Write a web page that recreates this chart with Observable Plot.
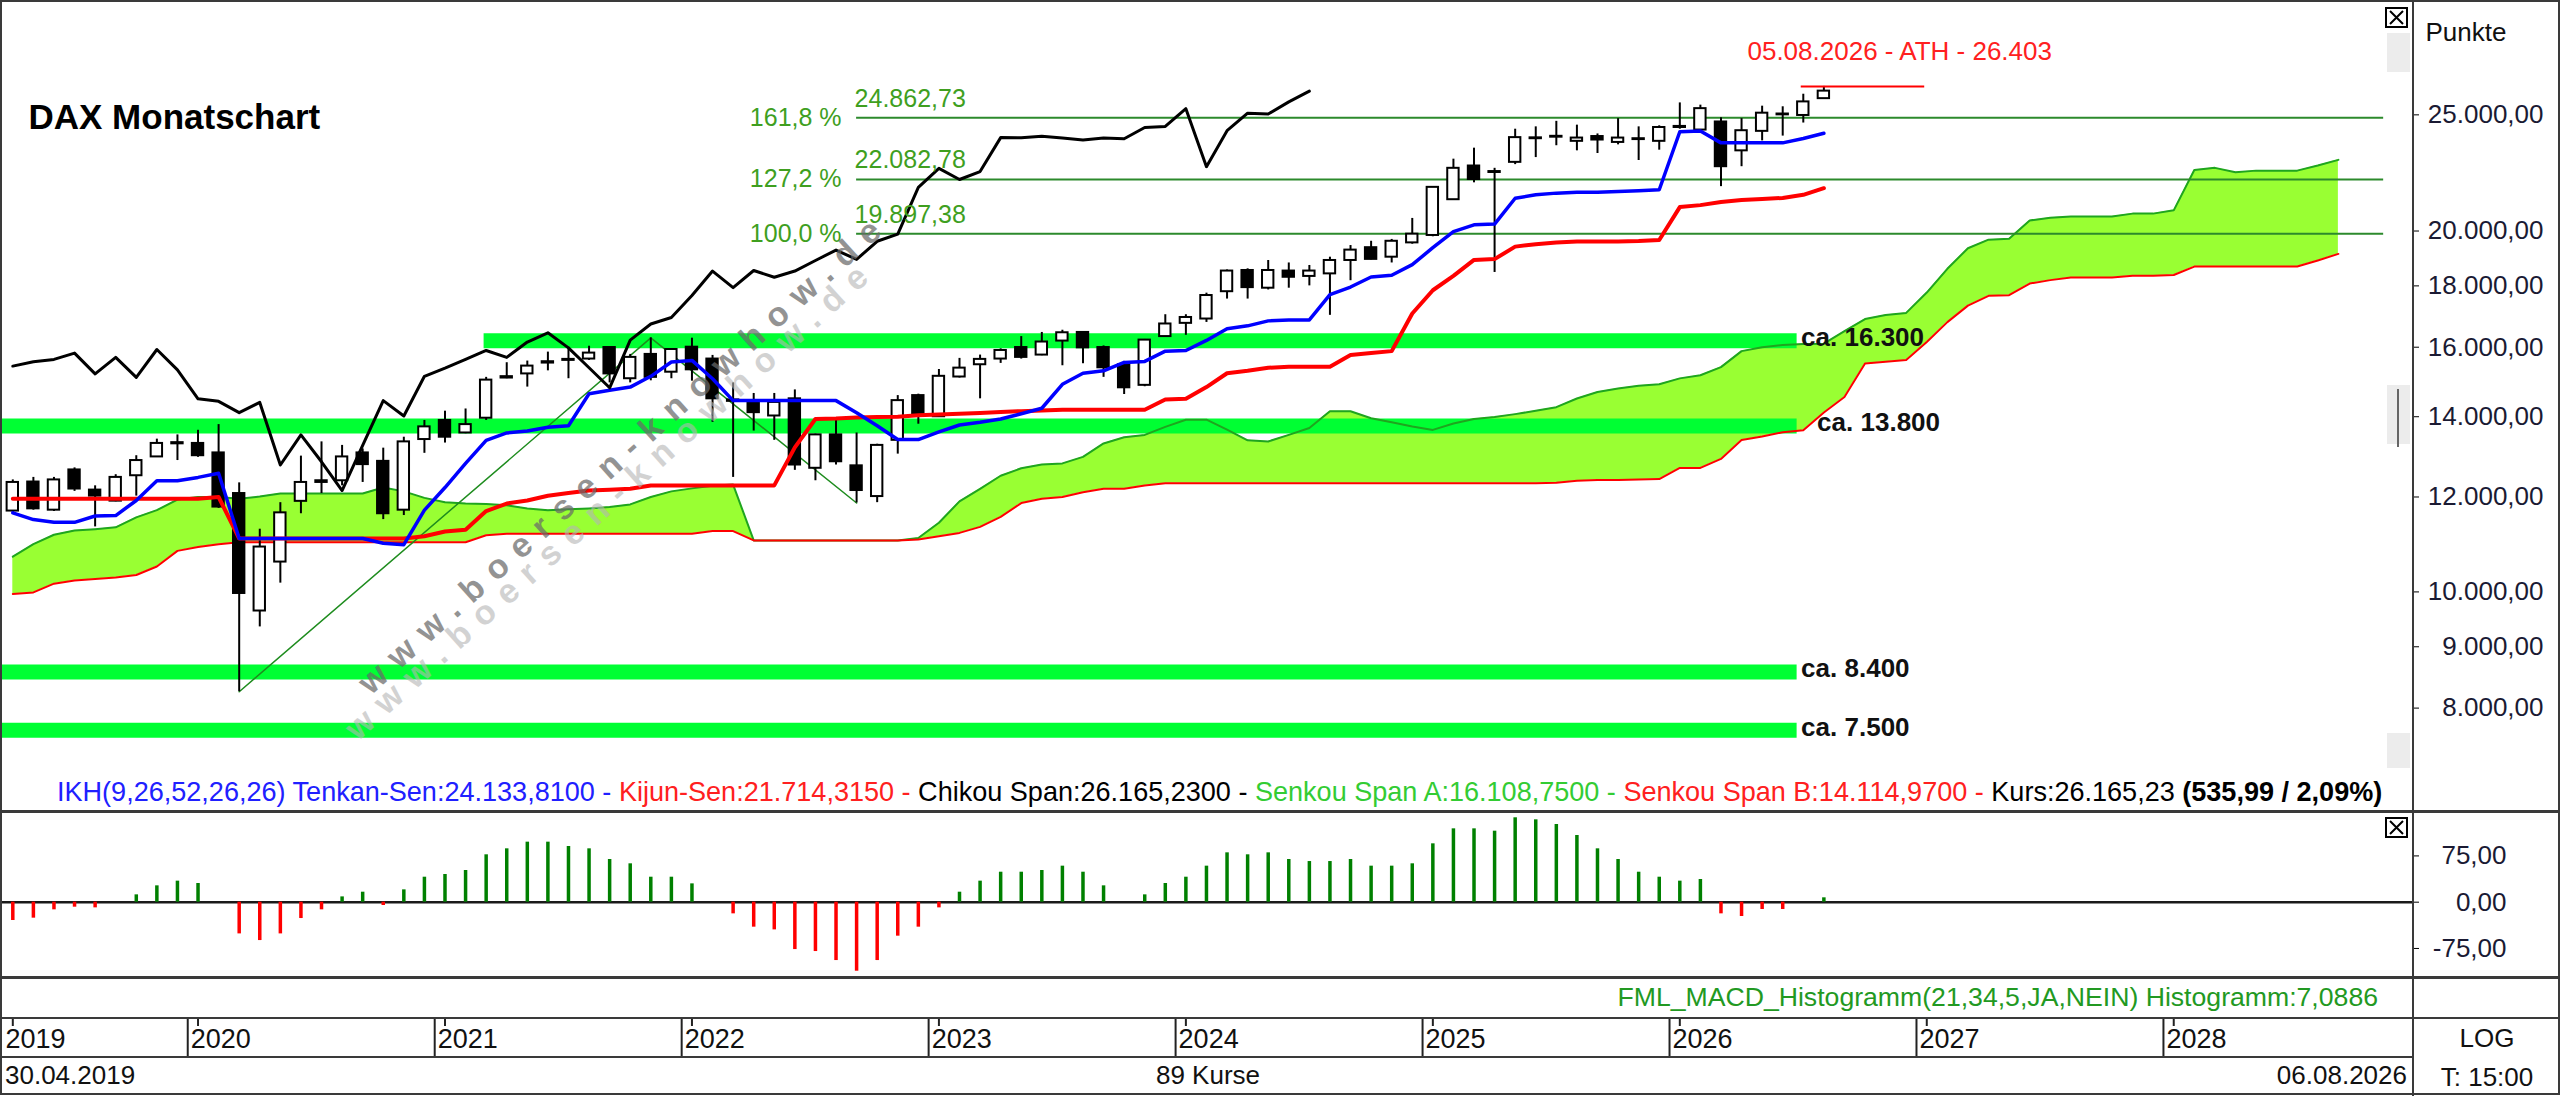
<!DOCTYPE html>
<html><head><meta charset="utf-8">
<script src="https://cdn.jsdelivr.net/npm/d3@7"></script>
<script src="https://cdn.jsdelivr.net/npm/@observablehq/plot@0.6"></script>
<style>
html,body{margin:0;padding:0;background:#fff;}
#wrap{position:relative;width:2560px;height:1096px;overflow:hidden;background:#fff;}
.pane{position:absolute;left:0;}
</style></head><body><div id="wrap"></div>
<script>
// ---------------- DATA ----------------
const title = "DAX Monatschart";
const firstDate = "30.04.2019";
const lastDate = "06.08.2026";
const open = [11680,12350,11700,12640,12160,11905,12500,12960,13290,13300,
13060,12080,9640,10590,11900,12340,12380,13060,12850,11700,
13400,13900,13570,13960,15080,15200,15520,15600,15640,15990,
15060,15780,15250,16000,15640,14460,14390,14020,14490,12680,
13520,12740,12010,13380,14580,14000,15110,15470,15640,15990,
15760,16190,16460,15990,15470,14870,16330,16750,16890,17800,
18540,17920,18520,18330,18420,18900,19370,19020,19550,19830,
21240,22660,22380,22820,23880,23950,23760,23980,23710,23840,
23760,24400,24280,24660,23330,24220,25000,24970,25790];
const high = [12400,12460,12460,12690,12260,12525,12990,13410,13520,13640,
13790,12330,11280,11870,12980,13340,13250,13160,13180,13460,
13900,14150,14210,15100,15530,15580,15850,16000,16030,16000,
15780,16290.19,15960,16280,15750,14940,14640,14640,14740,13540,
13940,13570,13280,14580,14620,15330,15660,15760,15950,16330,
16460,16530,16480,16040,15570,16240,17030,17030,17750,18560,
18600,18900,18810,18720,19020,19450,19610,19680,20490,21780,
22960,23450,22560,24320,24430,24690,24510,24100,24820,24430,
24480,25580,25470,24860,24820,25420,25390,26010,26403];
const low = [11650,11700,11670,12130,11330,11890,12020,12950,12870,12950,
11740,8255.65,9350,10170,11620,12080,12260,12340,11490,11580,
13050,13310,13550,13900,15060,14820,15290,15060,15600,14940,
14940,15000,15060,14990,13850,12460,13620,13380,12630,12380,
12760,11862.84,11870,13030,13800,13980,15080,14490,15510,15640,
15740,15440,15500,15100,14610,14830,16320,16370,16780,17550,
17550,17860,17920,18000,17010,18180,18920,18810,19500,19780,
21220,21940,18470,22720,23030,23560,23330,23210,23600,22900,
23360,24320,24250,21780,22630,23780,24000,24610,25750];
const close = [12340,11730,12400,12185,12020,12460,12870,13300,13320,12990,
11770,9970,10900,11640,12340,12380,12960,12770,11620,13340,
13730,13460,13790,15020,15120,15430,15560,15630,15820,15200,
15690,15100,15930,15320,14490,14420,14110,14390,12760,13520,
12840,12150,13250,14440,14020,15130,15370,15630,15900,15690,
16160,16450,15980,15380,14800,16220,16730,16940,17670,18520,
17940,18540,18300,18520,18900,19280,18940,19610,19880,21750,
22560,22080,22420,23930,23920,23990,23910,23820,23910,23880,
24400,24450,25300,22630,24250,25080,25040,25629.24,26165.23];
const tenkan = [11640,11490,11430,11430,11570,11580,11920,12380,12380,12460,
12560,11080,11080,11080,11080,11080,11080,11080,10980,10950,
11700,12220,12800,13380,13570,13620,13720,13760,14630,14730,
14820,15130,15550,15600,15060,14440,14440,14440,14440,14440,
14440,14110,13760,13400,13400,13600,13780,13850,13940,14080,
14230,14900,15220,15290,15540,15570,15880,15900,16210,16580,
16670,16830,16860,16860,17700,17960,18310,18370,18750,19370,
19980,20240,20270,21300,21440,21510,21550,21550,21580,21610,
21650,24200,24240,23690,23690,23690,23690,23890,24133.81];
const kijun = [11960,11960,11960,11960,11960,11960,11960,11960,11960,11960,
12000,11080,11080,11080,11080,11080,11080,11080,11080,11080,
11130,11230,11270,11680,11850,11920,12030,12090,12150,12170,
12190,12270,12270,12270,12270,12270,12270,12270,13200,13940,
13950,13980,13990,14000,14040,14060,14080,14100,14130,14150,
14170,14190,14190,14190,14190,14190,14470,14490,14820,15220,
15290,15380,15410,15410,15410,15760,15820,15880,17070,17850,
18350,18920,18950,19410,19500,19560,19600,19600,19600,19620,
19660,20940,21020,21150,21230,21270,21310,21440,21714.315];
const spanA = [10700,10960,11160,11250,11280,11320,11540,11700,11940,12000,
12000,11960,12010,12080,12080,12080,12080,12080,12220,12130,
11980,11880,11850,11840,11810,11740,11700,11720,11740,11770,
11830,12000,12130,12200,12260,12290,11040,11040,11040,11040,
11040,11040,11040,11040,11090,11420,11900,12190,12500,12680,
12770,12800,12960,13300,13460,13520,13730,13920,13920,13660,
13380,13350,13520,13700,14150,14150,13960,13850,13740,13650,
13820,13940,13990,14070,14160,14260,14500,14680,14780,14860,
14900,15070,15160,15400,15880,16000,16070,16100,16108.75,16500,
16890,17020,17090,17770,18600,19350,19670,19710,20410,20520,
20570,20570,20570,20680,20680,20810,22490,22580,22390,22460,
22460,22460,22680,22930];
const spanB = [9960,9990,10160,10220,10250,10280,10330,10500,10820,10900,
10960,11000,11000,11000,11000,11000,11000,11000,11000,11000,
11000,11000,11000,11150,11180,11180,11180,11180,11180,11180,
11180,11180,11180,11180,11240,11240,11040,11040,11040,11040,
11040,11040,11040,11040,11060,11130,11200,11330,11550,11860,
11960,12000,12110,12190,12190,12270,12320,12320,12320,12320,
12320,12320,12320,12320,12320,12320,12320,12320,12320,12320,
12320,12320,12320,12320,12320,12330,12380,12400,12400,12410,
12420,12690,12690,12910,13390,13480,13590,13640,14114.97,14540,
15510,15560,15610,16160,16790,17330,17660,17680,18080,18200,
18290,18290,18290,18350,18350,18380,18680,18680,18680,18680,
18680,18680,18900,19140];
const macdHist = [-29.7,-25.9,-12.4,-8.1,-9.2,0,11.9,26.5,34.1,30.3,
0,-51.4,-62.2,-51.4,-26.5,-12.4,8.6,16.2,-5.4,20,
40.5,44.9,51.4,76.8,86.5,97.3,97.3,90.3,86.5,69.2,
62.2,40.5,40.5,29.7,0,-18.9,-40.5,-44.9,-76.8,-80,
-94.6,-111.9,-94.6,-55.1,-40.5,-9.2,16.2,34.1,48.6,48.6,
51.4,58.4,48.6,26.5,0,11.9,30.3,40.5,58.4,80,
76.8,80,69.2,65.9,65.9,69.2,58.4,58.4,62.2,94.6,
118.9,118.9,115.1,136.8,133.5,125.9,108.1,86.5,69.2,48.6,
40.5,34.1,36.8,-18.9,-23.2,-11.9,-11.9,0,7.0886];
const chikouShift = 25;
const supportLevels = [16200, 13750, 8575, 7665];
const supportLabels = ["ca. 16.300", "ca. 13.800", "ca. 8.400", "ca. 7.500"];
const supportFromMonth = [22.9, -0.6, -0.6, -0.6];
const supportToMonth = 86.7;
const fibPct = ["100,0 %", "127,2 %", "161,8 %"];
const fibValues = [19897.38, 22082.78, 24862.73];
const fibToMonth = 115.2;
const zigzagMonth = [11, 31, 41];
const zigzagValue = [8255.65, 16290.19, 11862.84];
const athLabel = "05.08.2026 - ATH - 26.403";
const athValue = 26403;
const athFromMonth = 86.9, athToMonth = 92.9;
const priceTicks = [8000, 9000, 10000, 12000, 14000, 16000, 18000, 20000, 25000];
const macdTicks = [-75, 0, 75];
const years = [2019, 2020, 2021, 2022, 2023, 2024, 2025, 2026, 2027, 2028];
const macdName = "FML_MACD_Histogramm(21,34,5,JA,NEIN) Histogramm:";

// ---------------- HELPERS ----------------
const FONT = '"Liberation Sans", Arial, Helvetica, sans-serif';
const fmtDE = (v, dec = 2) => {
  const neg = v < 0; const s = Math.abs(v).toFixed(dec); const [a, b] = s.split(".");
  return (neg ? "-" : "") + a.replace(/\B(?=(\d{3})+(?!\d))/g, ".") + (b !== undefined ? "," + b : "");
};
const N = close.length;
const candles = d3.range(N).map(i => ({i, o: open[i], h: high[i], l: low[i], c: close[i], a: i - 0.5, b: i + 0.5}));
const cloud = d3.range(spanA.length).map(i => ({i, a: spanA[i], b: spanB[i]}));
const ichi = d3.range(N).map(i => ({i, t: tenkan[i], k: kijun[i]}));
const chikou = d3.range(N - chikouShift).map(i => ({i, v: close[i + chikouShift]}));
const supports = supportLevels.map((v, k) => ({v, label: supportLabels[k], from: supportFromMonth[k], to: supportToMonth}));
const fib = fibValues.map((v, k) => ({v, pct: fibPct[k], from: zigzagMonth[2], to: fibToMonth}));
const zig = zigzagMonth.map((m, k) => ({i: m, v: zigzagValue[k]}));
const ath = {v: athValue, from: athFromMonth, to: athToMonth, label: athLabel};
const macdData = macdHist.map((v, i) => ({i, v, zero: 0}));
const yearRows = years.map(y => {
  const jan = (y - 2019) * 12 - 3;
  return {label: String(y), boundary: Math.max(jan - 0.5, -0.5), first: Math.max(jan, 0), year: y};
});
const xDomain = [-0.598, 116.65];
const baseStyle = `font-family:${FONT};font-size:26px;background:transparent;max-width:none;overflow:visible;`;
const wrap = document.getElementById("wrap");
function place(el, top) { const d = document.createElement("div"); d.className = "pane"; d.style.top = top + "px"; d.appendChild(el); wrap.appendChild(d); return el; }
function fit(sel, w) { const n = sel.node(); const cur = parseFloat(sel.style("font-size")); const m = n.getComputedTextLength(); if (m > 0) sel.style("font-size", (cur * w / m) + "px"); }

// ---------------- PRICE PANEL ----------------
const price = Plot.plot({
  width: 2560, height: 811, marginLeft: 0, marginRight: 147, marginTop: 0, marginBottom: 0,
  x: {domain: xDomain, axis: null},
  y: {type: "log", domain: [6559, 31140], axis: null},
  color: {type: "identity"},
  style: baseStyle,
  marks: [
    Plot.areaY(cloud, {x: "i", y1: "b", y2: "a", fill: "#99ff33"}),
    Plot.ruleY(supports, {y: "v", x1: "from", x2: "to", stroke: "#00ff33", strokeWidth: 15}),
    Plot.line(cloud, {x: "i", y: "a", stroke: "#1fa51f", strokeWidth: 2}),
    Plot.line(cloud, {x: "i", y: "b", stroke: "#ff0000", strokeWidth: 2}),
    Plot.ruleY(fib, {y: "v", x1: "from", x2: "to", stroke: "#2c8a2c", strokeWidth: 2}),
    Plot.line(zig, {x: "i", y: "v", stroke: "#1e8c1e", strokeWidth: 1.5}),
    Plot.ruleX(candles, {x: "i", y1: "l", y2: "h", stroke: "#000", strokeWidth: 2}),
    Plot.rect(candles, {x1: "a", x2: "b", y1: "o", y2: "c", insetLeft: 4.6, insetRight: 4.6,
      fill: d => d.c >= d.o ? "#ffffff" : "#000000", stroke: "#000", strokeWidth: 2}),
    Plot.line(ichi, {x: "i", y: "k", stroke: "#ff0000", strokeWidth: 4}),
    Plot.line(ichi, {x: "i", y: "t", stroke: "#0000ff", strokeWidth: 3.5}),
    Plot.line(chikou, {x: "i", y: "v", stroke: "#000", strokeWidth: 3}),
    Plot.ruleY([ath], {y: "v", x1: "from", x2: "to", stroke: "#ff0000", strokeWidth: 2}),
    Plot.text([ath], {x: "to", y: "v", text: "label", dx: -25, dy: -35, textAnchor: "middle", fill: "#ff2020", fontSize: 26}),
    Plot.text(fib, {x: "from", y: "v", text: "pct", textAnchor: "end", dx: -15, fill: "#3f9f1f", fontSize: 25}),
    Plot.text(fib, {x: "from", y: "v", text: d => fmtDE(d.v), textAnchor: "start", dx: -2, dy: -19, fill: "#3f9f1f", fontSize: 25}),
    Plot.text(supports.filter((d, k) => k !== 1), {x: "to", y: "v", text: "label", textAnchor: "start", dx: 4, dy: -3, fontWeight: "bold", fill: "#111", fontSize: 26}),
    Plot.text(supports.filter((d, k) => k === 1), {x: "to", y: "v", text: "label", textAnchor: "start", dx: 20, dy: -3, fontWeight: "bold", fill: "#111", fontSize: 26}),
    Plot.text([title], {frameAnchor: "top-left", dx: 28, dy: 104, text: d => d, textAnchor: "start", fontWeight: "bold", fill: "#000", fontSize: 35}),
    Plot.text(["Punkte"], {frameAnchor: "top-right", dx: 12, dy: 22, text: d => d, textAnchor: "start", fill: "#111", fontSize: 26}),
    Plot.axisY(priceTicks, {anchor: "right", tickSize: 5, tickFormat: () => "", label: null, stroke: "#000"}),
    Plot.text(priceTicks, {y: d => d, text: d => fmtDE(d), frameAnchor: "right", dx: 130, textAnchor: "end", fill: "#1a1a33", fontSize: 26})
  ]
});
place(price, 0);
const psvg = d3.select(price);
// watermark
[{cx: 619, cy: 456, fill: "#6a6a6a", op: 0.72}, {cx: 606, cy: 502, fill: "#b5b5b5", op: 0.6}].forEach(w => {
  psvg.append("text").attr("transform", `translate(${w.cx},${w.cy}) rotate(-42)`)
    .attr("text-anchor", "middle").attr("dominant-baseline", "central")
    .attr("textLength", 690).attr("lengthAdjust", "spacing")
    .style("font-size", "34px").style("font-weight", "bold").style("font-family", FONT)
    .attr("fill", w.fill).attr("opacity", w.op).text("www.boersen-knowhow.de");
});
// legend line
const chg = close[N - 1] - close[N - 2];
const pct = chg / close[N - 2] * 100;
const legendParts = [
  {t: `IKH(9,26,52,26,26) Tenkan-Sen:${fmtDE(tenkan[N - 1], 4)} - `, c: "#2020ff"},
  {t: `Kijun-Sen:${fmtDE(kijun[N - 1], 4)} - `, c: "#ff2020"},
  {t: `Chikou Span:${fmtDE(close[N - 1], 4)} - `, c: "#000"},
  {t: `Senkou Span A:${fmtDE(spanA[N - 1], 4)} - `, c: "#33cc33"},
  {t: `Senkou Span B:${fmtDE(spanB[N - 1], 4)} - `, c: "#ff2020"},
  {t: `Kurs:${fmtDE(close[N - 1], 2)} `, c: "#000"},
  {t: `(${fmtDE(chg, 2)} / ${fmtDE(pct, 2)}%)`, c: "#000", b: true}
];
const leg = psvg.append("text").attr("x", 57).attr("y", 792).attr("dominant-baseline", "central")
  .attr("text-anchor", "start")
  .style("font-size", "24px").style("font-family", FONT).style("white-space", "pre");
legendParts.forEach(p => leg.append("tspan").attr("fill", p.c).style("font-weight", p.b ? "bold" : "normal").text(p.t));
fit(leg, 2327);

// ---------------- MACD PANEL ----------------
const macd = Plot.plot({
  width: 2560, height: 167, marginLeft: 0, marginRight: 147, marginTop: 0, marginBottom: 0,
  x: {domain: xDomain, axis: null},
  y: {domain: [-123.7, 147.0], axis: null},
  color: {type: "identity"},
  style: baseStyle,
  marks: [
    Plot.ruleY([0], {stroke: "#1a1a1a", strokeWidth: 2.5}),
    Plot.ruleX(macdData, {x: "i", y1: "zero", y2: "v", stroke: d => d.v >= 0 ? "#008000" : "#ff0000", strokeWidth: 3.5}),
    Plot.axisY(macdTicks, {anchor: "right", tickSize: 5, tickFormat: () => "", label: null, stroke: "#000"}),
    Plot.text(macdTicks, {y: d => d, text: d => fmtDE(d), frameAnchor: "right", dx: 93, textAnchor: "end", fill: "#1a1a33", fontSize: 26})
  ]
});
place(macd, 811);

// ---------------- TIME AXIS ----------------
const taxis = Plot.plot({
  width: 2560, height: 38, marginLeft: 0, marginRight: 147, marginTop: 0, marginBottom: 0,
  x: {domain: xDomain, axis: null},
  style: baseStyle,
  marks: [
    Plot.ruleX(yearRows.filter(d => d.boundary > 0), {x: "boundary", stroke: "#222", strokeWidth: 2}),
    Plot.ruleX(yearRows, {x: "first", stroke: "#222", strokeWidth: 2, insetBottom: 31}),
    Plot.text(yearRows, {x: "boundary", text: "label", frameAnchor: "middle", dx: 3, dy: 1, textAnchor: "start", fill: "#111", fontSize: 27})
  ]
});
place(taxis, 1019);

// ---------------- FRAME / TEXT OVERLAY ----------------
const ov = d3.select(wrap).append("svg").attr("width", 2560).attr("height", 1096)
  .style("position", "absolute").style("left", 0).style("top", 0).style("font-family", FONT);
const col = "#3a3a3a";
const hl = (y, x1, x2, h) => ov.append("rect").attr("x", x1).attr("y", y).attr("width", x2 - x1).attr("height", h).attr("fill", col);
hl(810, 0, 2560, 3); hl(976, 0, 2560, 3); hl(1017, 0, 2560, 2); hl(1056, 0, 2413, 2);
ov.append("rect").attr("x", 2412).attr("y", 0).attr("width", 2).attr("height", 1096).attr("fill", col);
ov.append("rect").attr("x", 1).attr("y", 1).attr("width", 2558).attr("height", 1093).attr("fill", "none").attr("stroke", col).attr("stroke-width", 2);
// scroll/ui elements
[[33, 39], [385, 59], [733, 35]].forEach(([y, h]) => ov.append("rect").attr("x", 2387).attr("y", y).attr("width", 23).attr("height", h).attr("fill", "#ececec"));
ov.append("rect").attr("x", 2397).attr("y", 389).attr("width", 2).attr("height", 58).attr("fill", "#666");
[8, 818].forEach(y => {
  ov.append("rect").attr("x", 2386).attr("y", y).attr("width", 21).attr("height", 19).attr("fill", "#fff").attr("stroke", "#000").attr("stroke-width", 2);
  ov.append("path").attr("d", `M2390,${y + 3}L2403,${y + 16}M2403,${y + 3}L2390,${y + 16}`).attr("stroke", "#000").attr("stroke-width", 2);
});
const txt = (s, x, y, anchor, fill = "#111", size = 26) => ov.append("text").attr("x", x).attr("y", y)
  .attr("text-anchor", anchor).attr("dominant-baseline", "central").attr("fill", fill).style("font-size", size + "px").text(s);
const ml = txt(macdName + fmtDE(macdHist[N - 1], 4), 2378, 997, "end", "#229922");
fit(ml, 761);
txt(firstDate, 5, 1075, "start");
txt(`${N} Kurse`, 1208, 1075, "middle");
txt(lastDate, 2407, 1075, "end");
txt("LOG", 2487, 1038, "middle");
txt("T: 15:00", 2487, 1077, "middle");
</script></body></html>
